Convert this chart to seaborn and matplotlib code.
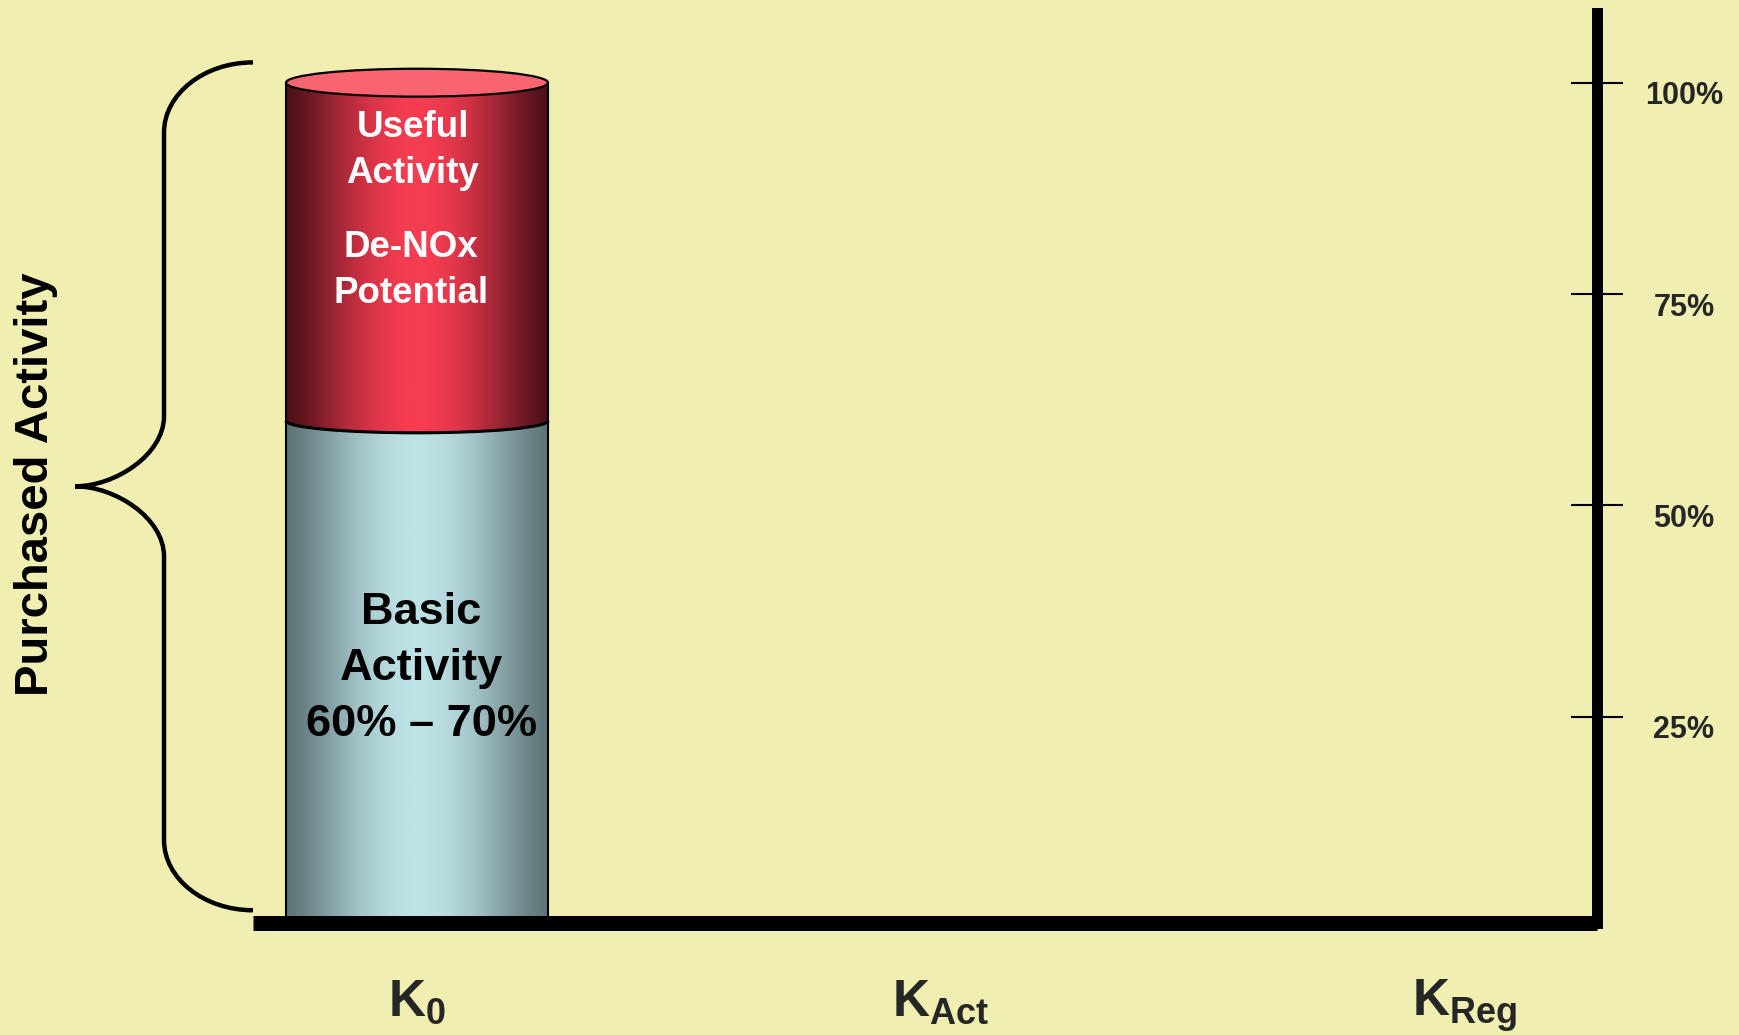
import numpy as np
import pandas as pd
import matplotlib
matplotlib.use("Agg")
import matplotlib.pyplot as plt
import seaborn as sns
from matplotlib.colors import LinearSegmentedColormap
from matplotlib.patches import Ellipse, Arc, PathPatch
from matplotlib.path import Path
from matplotlib.transforms import ScaledTranslation, blended_transform_factory

# Catalyst activity states along the x axis
categories = ["K0", "KAct", "KReg"]
category_labels = [r"$\mathbf{K}_{\mathbf{0}}$",
                   r"$\mathbf{K}_{\mathbf{Act}}$",
                   r"$\mathbf{K}_{\mathbf{Reg}}$"]

# Fresh catalyst: purchased activity and its basic share (%)
bar_states = ["K0"]
purchased = [100]
basic = [60]

y_ticks = [25, 50, 75, 100]
y_tick_labels = ["25%", "50%", "75%", "100%"]

basic_text = "Basic\nActivity\n60% \u2013 70%"
useful_text = "Useful\nActivity"
denox_text = "De-NOx\nPotential"
brace_text = "Purchased Activity"

BG = "#F0EEB0"

sns.set_style("white")
plt.rcParams["font.family"] = ["Liberation Sans", "DejaVu Sans"]
plt.rcParams["font.weight"] = "bold"
plt.rcParams["mathtext.fontset"] = "custom"
plt.rcParams["mathtext.rm"] = "Liberation Sans"
plt.rcParams["mathtext.bf"] = "Liberation Sans:bold"
plt.rcParams["mathtext.it"] = "Liberation Sans:italic"

fig = plt.figure(figsize=(17.4, 10.35), dpi=100, facecolor=BG)
ax = fig.add_axes([0.1454, 0.1082, 0.7724, 0.8797])
ax.set_facecolor(BG)

df = pd.DataFrame({"state": bar_states, "purchased": purchased, "basic": basic})

# Outer (red) cylinder body and inner (blue) basic part
sns.barplot(data=df, x="state", y="purchased", order=categories, width=0.5,
            color="#F13A4F", saturation=1, ax=ax)
n_red = len(ax.patches)
sns.barplot(data=df, x="state", y="basic", order=categories, width=0.5,
            color="#BCE1E5", saturation=1, ax=ax)
red_patches = ax.patches[:n_red]
blue_patches = ax.patches[n_red:]

XLIM = (-0.313, 2.252)
YLIM = (0.59, 108.3)

# Horizontal shading profile of a lit cylinder
t = np.linspace(0, 1, 600)
profile = (np.sin(np.pi * t) ** 1.3)[None, :]
red_cmap = LinearSegmentedColormap.from_list("red_cyl", ["#4E1119", "#F63C51"])
blue_cmap = LinearSegmentedColormap.from_list("blue_cyl", ["#5E7577", "#BDE2E6"])

rim_half = 1.42  # half-height of the dividing ellipse (data units)
top_half = 1.65  # half-height of the top ellipse

for p in red_patches:
    x0, w, h = p.get_x(), p.get_width(), p.get_height()
    p.set_facecolor("none")
    p.set_edgecolor("black")
    p.set_linewidth(1.5)
    p.set_zorder(3)
    im = ax.imshow(profile, cmap=red_cmap, vmin=0, vmax=1, aspect="auto",
                   extent=[x0, x0 + w, 0, h], zorder=2, interpolation="bilinear")
    im.set_clip_path(p)

for p, rp in zip(blue_patches, red_patches):
    x0, w, h = p.get_x(), p.get_width(), p.get_height()
    p.set_facecolor("none")
    p.set_edgecolor("none")
    p.set_zorder(2.1)
    im = ax.imshow(profile, cmap=blue_cmap, vmin=0, vmax=1, aspect="auto",
                   extent=[x0, x0 + w, 0, h], zorder=2.2, interpolation="bilinear")
    im.set_clip_path(p)
    # lower rim of the useful-activity section, curving over the basic part
    cx = x0 + w / 2
    rim = Ellipse((cx, h), w, 2 * rim_half, transform=ax.transData)
    im2 = ax.imshow(profile, cmap=red_cmap, vmin=0, vmax=1, aspect="auto",
                    extent=[x0, x0 + w, h - rim_half, h + rim_half], zorder=2.4,
                    interpolation="bilinear")
    im2.set_clip_path(rim)
    ax.add_patch(Arc((cx, h), w, 2 * rim_half, theta1=180, theta2=360,
                     color="black", lw=2.2, zorder=3.1))
    # top cap of the cylinder
    top = rp.get_height()
    ax.add_patch(Ellipse((cx, top), w, 2 * top_half, facecolor="#F8646F",
                         edgecolor="black", lw=1.6, zorder=3.2))

    ax.text(cx - 0.008, 92.0, useful_text, ha="center", va="center",
            color="white", fontsize=26.5, fontweight="bold", linespacing=1.40,
            zorder=5)
    ax.text(cx - 0.012, 77.8, denox_text, ha="center", va="center",
            color="white", fontsize=26.5, fontweight="bold", linespacing=1.40,
            zorder=5)
    ax.text(cx + 0.008, 30.7, basic_text, ha="center", va="center",
            color="black", fontsize=32.5, fontweight="bold", linespacing=1.47,
            zorder=5)

ax.set_xlim(*XLIM)
ax.set_ylim(*YLIM)

# Axes frame: thick baseline and right-hand percentage scale
for side in ["left", "top"]:
    ax.spines[side].set_visible(False)
ax.spines["bottom"].set_linewidth(10.8)
ax.spines["bottom"].set_color("black")
ax.spines["bottom"].set_capstyle("butt")
ax.spines["right"].set_linewidth(7.9)
ax.spines["right"].set_color("black")
ax.spines["right"].set_capstyle("projecting")
ax.spines["bottom"].set_zorder(6)
ax.spines["right"].set_zorder(6)

ax.set_xlabel("")
ax.set_ylabel("")
ax.set_xticks(range(len(categories)))
ax.set_xticklabels(category_labels)
ax.tick_params(axis="x", length=0, pad=39, labelsize=37)

ax.set_yticks(y_ticks)
ax.set_yticklabels(y_tick_labels)
ax.yaxis.set_ticks_position("right")
ax.tick_params(axis="y", left=False, right=True, labelleft=False,
               labelright=True, direction="inout", length=38, width=1.5,
               color="black", pad=43.6, labelsize=22)
shift = ScaledTranslation(0, -0.10, fig.dpi_scale_trans)
for lab in ax.get_yticklabels():
    lab.set_ha("center")
    lab.set_fontweight("bold")
    lab.set_transform(lab.get_transform() + shift)

# Curly brace spanning the purchased activity
bt = blended_transform_factory(ax.transAxes, ax.transData)
y_top = purchased[0] + 2.4
y_bot = 2.1
y_mid = (y_top + y_bot) / 2
xa, xb, xc = 0.0, -0.0662, -0.1324
ry = 8.3
k = 0.55
verts = [
    (xa, y_top),
    (xa + (xb - xa) * k, y_top), (xb, y_top - ry * (1 - k)), (xb, y_top - ry),
    (xb, y_mid + ry),
    (xb, y_mid + ry * (1 - k)), (xc + (xb - xc) * (1 - k), y_mid), (xc, y_mid),
    (xc + (xb - xc) * (1 - k), y_mid), (xb, y_mid - ry * (1 - k)), (xb, y_mid - ry),
    (xb, y_bot + ry),
    (xb, y_bot + ry * (1 - k)), (xa + (xb - xa) * k, y_bot), (xa, y_bot),
]
codes = [Path.MOVETO,
         Path.CURVE4, Path.CURVE4, Path.CURVE4,
         Path.LINETO,
         Path.CURVE4, Path.CURVE4, Path.CURVE4,
         Path.CURVE4, Path.CURVE4, Path.CURVE4,
         Path.LINETO,
         Path.CURVE4, Path.CURVE4, Path.CURVE4]
brace = PathPatch(Path(verts, codes), transform=bt, facecolor="none",
                  edgecolor="black", lw=3.2, clip_on=False, capstyle="butt")
ax.add_patch(brace)

fig.text(0.0207, 0.532, brace_text, rotation=90, ha="center", va="center",
         fontsize=34, fontweight="bold", color="black")

fig.savefig("out.png", dpi=100, facecolor=BG)
